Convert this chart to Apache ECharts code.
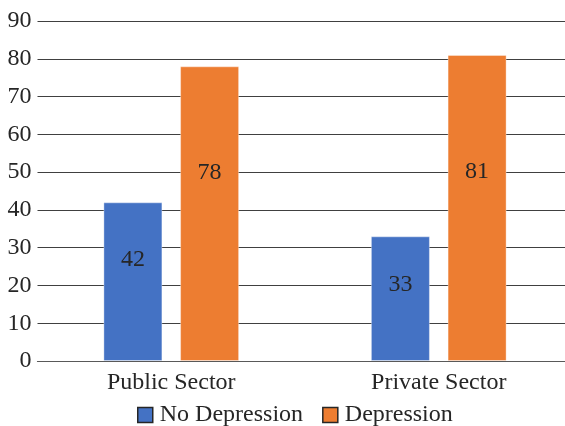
<!DOCTYPE html>
<html>
<head>
<meta charset="utf-8">
<script src="https://cdn.jsdelivr.net/npm/echarts@6/dist/echarts.min.js"></script>
<style>
  html, body { margin: 0; padding: 0; background: #fff; }
  #chart { width: 565px; height: 426px; }
</style>
</head>
<body>
<div id="chart"></div>
<script>
// Share of employees with / without depression by sector
const categories = ['Public Sector', 'Private Sector'];
const noDepression = [42, 33];
const depression = [78, 81];
const yTicks = { min: 0, max: 90, interval: 10 };

const font = '"Liberation Serif", "Times New Roman", serif';
const chart = echarts.init(document.getElementById('chart'));

// vertical placement of each value label inside its bar (fraction from bar top)
const labelSpotNo = ['36%', '39%'];
const labelSpotDep = ['36%', '38%'];

function labelFor(spot) {
  return {
    show: true,
    position: ['50%', spot],
    align: 'center',
    verticalAlign: 'middle',
    fontFamily: font,
    fontSize: 24,
    color: '#262626'
  };
}

function withLabels(values, spots) {
  return values.map((v, i) => ({ value: v, label: labelFor(spots[i]) }));
}

chart.setOption({
  animation: false,
  backgroundColor: '#fff',
  textStyle: { fontFamily: font },
  // the plot runs past the right edge of the canvas, so keep the grid unclamped
  grid: {
    left: 37.5, top: 21, width: 535, height: 340,
    containLabel: false,
    outerBoundsMode: 'none'
  },
  legend: {
    top: 398,
    left: 132,
    itemWidth: 15,
    itemHeight: 15,
    itemGap: 19,
    icon: 'rect',
    textStyle: { fontFamily: font, fontSize: 24, color: '#262626', padding: [0, 0, 0, 2] },
    data: [
      { name: 'No Depression', itemStyle: { borderColor: '#262626', borderWidth: 1.5 } },
      { name: 'Depression', itemStyle: { borderColor: '#262626', borderWidth: 1.5 } }
    ]
  },
  xAxis: {
    type: 'category',
    data: categories,
    axisLine: { show: true, lineStyle: { color: '#595959', width: 1.2 } },
    axisTick: { show: false },
    axisLabel: { fontFamily: font, fontSize: 24, color: '#262626', margin: 10 }
  },
  yAxis: {
    type: 'value',
    min: yTicks.min,
    max: yTicks.max,
    interval: yTicks.interval,
    axisLine: { show: false },
    axisTick: { show: false },
    axisLabel: { fontFamily: font, fontSize: 24, color: '#262626', margin: 6 },
    splitLine: { lineStyle: { color: '#404040', width: 1.2 } }
  },
  series: [
    {
      name: 'No Depression',
      type: 'bar',
      data: withLabels(noDepression, labelSpotNo),
      barWidth: 59,
      barGap: '30%',
      itemStyle: { color: '#4472C4', borderColor: 'rgba(255,255,255,0.35)', borderWidth: 1 }
    },
    {
      name: 'Depression',
      type: 'bar',
      data: withLabels(depression, labelSpotDep),
      barWidth: 59,
      barGap: '30%',
      itemStyle: { color: '#ED7D31', borderColor: 'rgba(255,255,255,0.35)', borderWidth: 1 }
    }
  ]
});
</script>
</body>
</html>
